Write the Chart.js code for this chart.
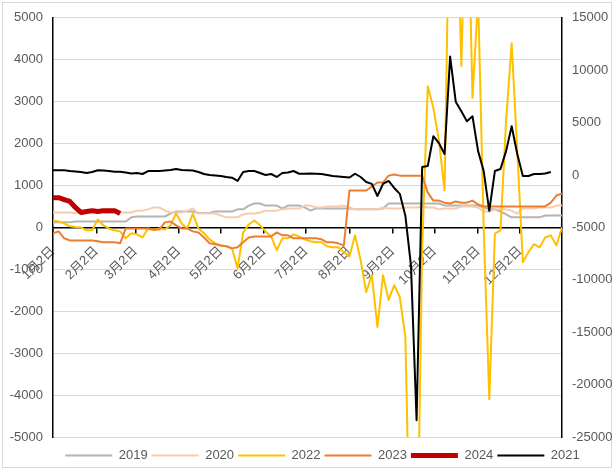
<!DOCTYPE html>
<html><head><meta charset="utf-8">
<script src="https://cdn.jsdelivr.net/npm/chart.js@4.4.1/dist/chart.umd.min.js"></script>
<style>html,body{margin:0;padding:0;background:#fff;}</style>
</head><body>
<canvas id="c" width="615" height="472"></canvas>
<script>
// x positions: days since Jan 2 (sampled every 4 days)
const days = [0,4,8,12,16,20,24,28,32,36,40,44,48,52,56,60,64,68,72,76,80,84,88,92,96,100,104,108,112,116,120,124,128,132,136,140,144,148,152,156,160,164,168,172,176,180,184,188,192,196,200,204,208,212,216,220,224,228,232,236,240,244,248,252,256,260,264,268,272,276,280,284,288,292,296,300,304,308,312,316,320,324,328,332,336,340,344,348,352,356,360,364];
const tickDays = [0,31,59,90,120,151,181,212,243,273,304,334];
const tickLabels = ['1月2日','2月2日','3月2日','4月2日','5月2日','6月2日','7月2日','8月2日','9月2日','10月2日','11月2日','12月2日'];

const s2019 = [120,120,120,120,140,140,140,140,140,140,140,140,140,140,240,260,260,260,260,260,260,330,380,380,380,380,345,345,345,380,380,380,380,430,430,520,570,570,520,520,520,450,520,520,520,475,400,450,450,450,450,450,450,450,430,430,430,430,430,450,570,570,570,570,570,570,570,570,570,570,520,520,520,520,520,520,520,475,430,430,380,310,240,240,240,240,240,240,285,285,285,285];
const s2020 = [356,356,356,356,340,380,356,330,356,356,340,356,356,356,356,400,400,430,475,475,400,356,356,356,400,450,330,330,330,330,285,240,240,240,310,330,330,356,400,400,400,430,450,450,450,520,520,475,475,500,500,500,520,475,430,430,430,430,430,475,450,450,450,475,475,475,500,475,475,430,450,450,450,500,500,500,475,380,380,430,430,430,400,330,450,450,450,475,475,475,520,520];
const s2022 = [165,140,95,25,10,0,-70,-70,190,50,-25,-70,-95,-260,-140,-165,-240,-25,-70,-25,-50,50,330,95,-25,330,-25,-140,-285,-380,-430,-450,-500,-975,-120,70,165,50,-95,-215,-545,-260,-260,-165,-215,-285,-330,-355,-355,-450,-475,-475,-590,-690,-190,-785,-1540,-1140,-2375,-1140,-1730,-1380,-1660,-2610,-9000,-9000,-500,3370,2850,2070,880,9000,9000,3850,9000,3090,5500,0,-4100,-150,-70,2540,4390,1830,-830,-590,-400,-475,-240,-190,-430,0];
const s2023 = [-140,-95,-260,-310,-310,-310,-310,-310,-330,-355,-355,-355,-380,-25,-25,-25,-25,-25,-50,-50,120,140,50,-25,-25,-95,-120,-240,-380,-400,-430,-450,-500,-475,-355,-240,-215,-215,-215,-215,-120,-190,-190,-260,-260,-260,-260,-260,-285,-355,-355,-380,-430,880,880,880,880,975,1070,1070,1235,1260,1235,1235,1235,1235,1235,830,640,640,590,570,620,590,590,640,545,500,500,500,500,500,500,500,500,500,500,500,500,590,760,810];
const s2024 = [710,710,665,620,475,356,380,400,380,400,400,400,330];
const s2021 = [450,450,450,380,330,290,190,290,450,430,380,310,310,240,140,190,95,380,380,380,430,480,570,480,450,430,290,95,0,-50,-95,-190,-260,-570,290,380,380,190,0,95,-190,190,240,380,120,120,140,120,95,0,-95,-140,-190,-240,120,-190,-670,-850,-2000,-850,-570,-1240,-1800,-3900,-8650,-23400,760,860,3700,3040,2000,11300,7000,6080,5130,5600,2280,380,-3420,380,570,2280,4650,2000,-95,-95,95,95,140,290];

const FONT = '"Liberation Sans", "Noto Sans CJK SC", sans-serif';
const TXT = '#595959';
function pts(vals){ return vals.map((v,i)=>({x: days[i], y: v})); }

const frame = {
  id:'frame',
  beforeDraw(chart){
    const c = chart.ctx; c.save();
    c.fillStyle='#fff'; c.fillRect(0,0,chart.width,chart.height);
    c.strokeStyle='#d9d9d9'; c.lineWidth=1; c.strokeRect(2.5,2.5,609,465);
    c.restore();
  },
  afterLayout(chart){
    // legend centred like the original (slightly right of canvas centre)
    if (chart.legend){ chart.legend.left = 30; chart.legend.width = chart.legend.right - 30; }
  }
};

new Chart(document.getElementById('c'), {
  type:'line',
  data:{datasets:[
    {label:'2019', data:pts(s2019), borderColor:'#b4b4b4', backgroundColor:'#b4b4b4', borderWidth:2, xAxisID:'x', yAxisID:'y', order:6},
    {label:'2020', data:pts(s2020), borderColor:'#f8cbad', backgroundColor:'#f8cbad', borderWidth:2, xAxisID:'x', yAxisID:'y', order:5},
    {label:'2022', data:pts(s2022), borderColor:'#ffc000', backgroundColor:'#ffc000', borderWidth:2, xAxisID:'x', yAxisID:'y', order:4},
    {label:'2023', data:pts(s2023), borderColor:'#ed7d31', backgroundColor:'#ed7d31', borderWidth:2, xAxisID:'x', yAxisID:'y', order:3},
    {label:'2024', data:pts(s2024), borderColor:'#c00000', backgroundColor:'#c00000', borderWidth:5, xAxisID:'x', yAxisID:'y', order:2},
    {label:'2021', data:pts(s2021), borderColor:'#000000', backgroundColor:'#000000', borderWidth:2, xAxisID:'x', yAxisID:'y2', order:1}
  ]},
  options:{
    responsive:false, animation:false, devicePixelRatio:1,
    layout:{padding:{left:0,right:0,top:16,bottom:0}},
    elements:{line:{tension:0, borderJoinStyle:'round'}, point:{radius:0, hoverRadius:0}},
    plugins:{
      legend:{position:'bottom', labels:{usePointStyle:true, pointStyle:'line', pointStyleWidth:47, padding:4, color:TXT, font:{size:13, family:FONT}, sort:(a,b)=>a.datasetIndex-b.datasetIndex}},
      tooltip:{enabled:false}
    },
    scales:{
      x:{type:'linear', position:{y:0}, min:0, max:364,
        afterBuildTicks:s=>{ s.ticks = tickDays.map(v=>({value:v})); },
        ticks:{autoSkip:false, minRotation:45, maxRotation:45, padding:11, color:TXT, font:{size:13, family:FONT}, callback:(v,i)=>tickLabels[i]},
        grid:{display:true, drawOnChartArea:false, drawTicks:true, tickLength:5, color:'#000', lineWidth:1.5},
        border:{display:true, color:'#000', width:1.5}},
      xpad:{type:'linear', position:'bottom', display:true, afterFit:s=>{ s.height=8; },
        ticks:{display:false}, grid:{display:false}, border:{display:false}},
      y:{type:'linear', position:'left', min:-5000, max:5000,
        ticks:{stepSize:1000, padding:10, color:TXT, font:{size:13, family:FONT}, callback:v=>String(v)},
        grid:{color:'#d9d9d9', lineWidth:1, drawTicks:false},
        border:{color:'#000', width:1.5},
        afterFit:s=>{ s.width=53; }},
      y2:{type:'linear', position:'right', min:-25000, max:15000,
        ticks:{stepSize:5000, padding:10, color:TXT, font:{size:13, family:FONT}, callback:v=>String(v)},
        grid:{drawOnChartArea:false, drawTicks:false},
        border:{color:'#000', width:1.5},
        afterFit:s=>{ s.width=53; }}
    }
  },
  plugins:[frame]
});
</script>
</body></html>
